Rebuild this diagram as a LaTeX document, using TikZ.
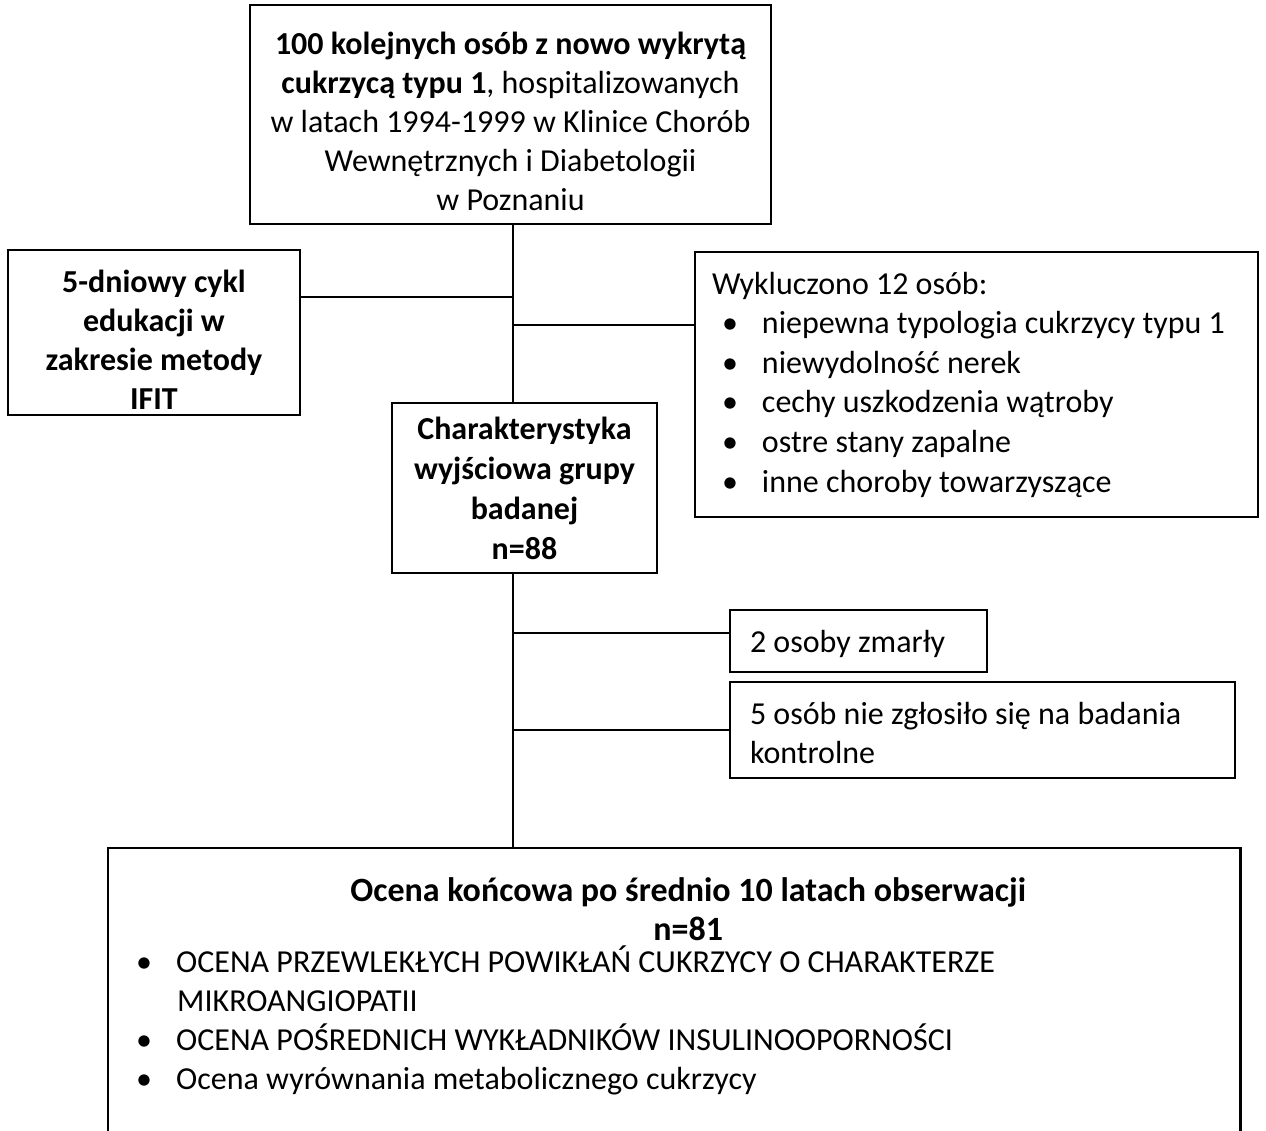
\documentclass[tikz,border=0pt]{standalone}
\usepackage{fontspec}
\setmainfont{Carlito}
\newcommand{\pkt}{\makebox[20pt][l]{\textbullet}}
\begin{document}
\begin{tikzpicture}[x=0.5pt, y=-0.5pt,
    box/.style={draw, line width=1.2pt, inner sep=0pt, font=\fontsize{16pt}{19.5pt}\selectfont},
    boldbox/.style={box, align=center, font=\fontsize{16pt}{20pt}\selectfont\bfseries},
    link/.style={line width=0.9pt}]
        \useasboundingbox (0,0) rectangle (1266,1131);

        % boxes
        \node[box, minimum width=260.5pt, minimum height=109.5pt, align=center] (start) at (510.5,114.5)
            {\rule{0pt}{18.5pt}\textbf{100 kolejnych osób z nowo wykrytą}\\\textbf{cukrzycą typu 1}, hospitalizowanych\\w latach 1994-1999 w Klinice Chorób\\Wewnętrznych i Diabetologii\\w Poznaniu};
        \node[boldbox, minimum width=146pt, minimum height=82.5pt, font=\fontsize{16pt}{19.6pt}\selectfont\bfseries] (edu) at (154,332.5)
            {\rule{0pt}{18.5pt}5-dniowy cykl\\edukacji w\\zakresie metody\\IFIT};
        \node[box, minimum width=281.5pt, minimum height=132.5pt, text width=264.5pt, align=flush left, font=\fontsize{16pt}{19.8pt}\selectfont] (excl) at (976.5,384.5)
            {Wykluczono 12 osób:\\
             \hspace*{5pt}\pkt niepewna typologia cukrzycy typu 1\\
             \hspace*{5pt}\pkt niewydolność nerek\\
             \hspace*{5pt}\pkt cechy uszkodzenia wątroby\\
             \hspace*{5pt}\pkt ostre stany zapalne\\
             \hspace*{5pt}\pkt inne choroby towarzyszące};
        \node[boldbox, minimum width=132.5pt, minimum height=85pt] (base) at (524.5,488)
            {\rule{0pt}{10pt}Charakterystyka\\wyjściowa grupy\\badanej\\n=88};
        \node[box, minimum width=128.5pt, minimum height=31pt, text width=108.5pt, align=flush left] (died) at (858.5,641)
            {\rule{0pt}{14pt}2 osoby zmarły};
        \node[box, minimum width=252.5pt, minimum height=48pt, text width=232.5pt, align=flush left] (lost) at (982.5,730)
            {\rule{0pt}{14pt}5 osób nie zgłosiło się na badania\\kontrolne};
        \node[box, draw=none, anchor=north west, text width=538pt, inner xsep=13.5pt, inner ysep=14pt, align=flush left] (final) at (108,848)
            {\makebox[\linewidth]{\hspace{14pt}\fontsize{17pt}{19.5pt}\selectfont\bfseries Ocena końcowa po średnio 10 latach obserwacji}\\
             \makebox[\linewidth]{\hspace{14pt}\fontsize{17pt}{19.5pt}\selectfont\bfseries n=81}\\[-3.5pt]
             \pkt OCENA PRZEWLEKŁYCH POWIKŁAŃ CUKRZYCY O CHARAKTERZE\\
             \hspace*{20.5pt}MIKROANGIOPATII\\
             \pkt OCENA POŚREDNICH WYKŁADNIKÓW INSULINOOPORNOŚCI\\
             \pkt Ocena wyrównania metabolicznego cukrzycy};
        \coordinate (pagebottom) at (0,1131);
        \draw[line width=1.2pt] (final.north west |- pagebottom) -- (final.north west) -- (final.north east) -- (final.north east |- pagebottom);

        % connectors
        \coordinate (stem) at (513,0);
        \coordinate (j1) at (513,297);
        \coordinate (j2) at (513,325);
        \coordinate (j3) at (513,633);
        \coordinate (j4) at (513,730);
        \draw[link] (start.south -| stem) -- (base.north -| stem);
        \draw[link] (base.south -| stem) -- (final.north -| stem);
        \draw[link] (j1) -- (j1 -| edu.east);
        \draw[link] (j2) -- (j2 -| excl.west);
        \draw[link] (j3) -- (j3 -| died.west);
        \draw[link] (j4) -- (j4 -| lost.west);
    \end{tikzpicture}
\end{document}
